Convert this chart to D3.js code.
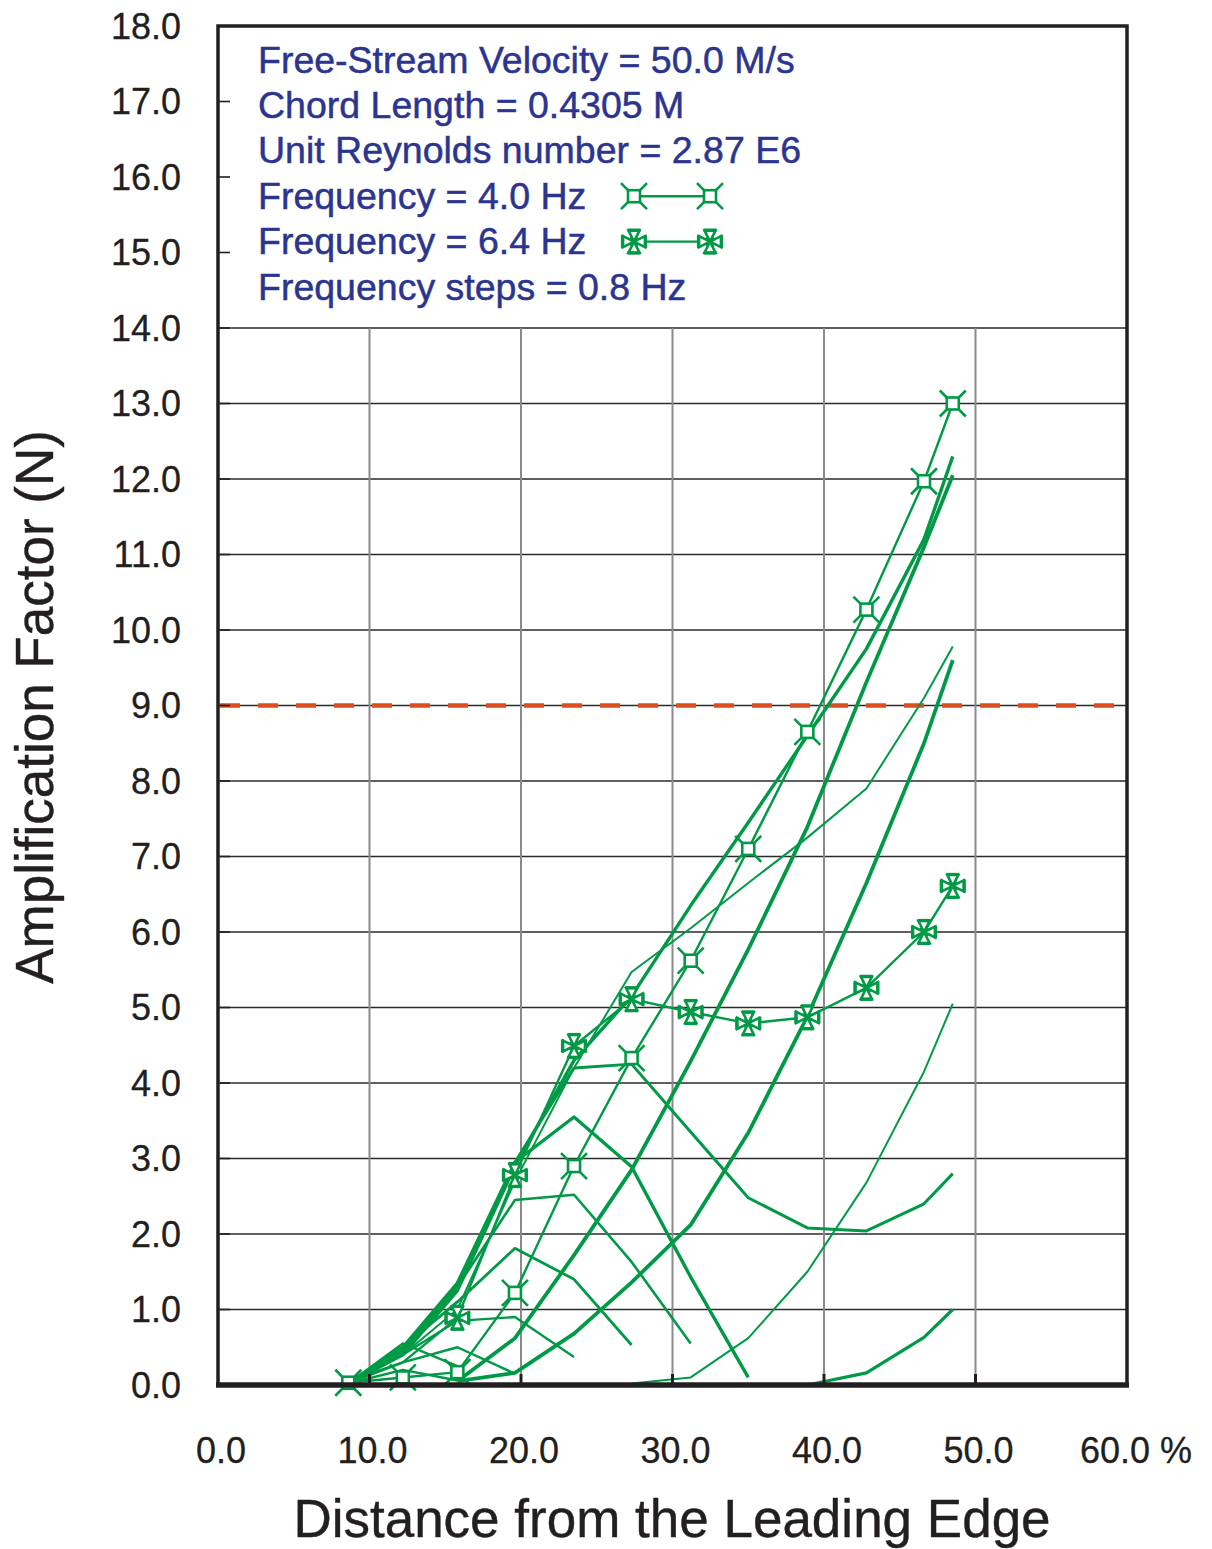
<!DOCTYPE html>
<html><head><meta charset="utf-8">
<script src="https://cdn.jsdelivr.net/npm/d3@7"></script>
<style>body{margin:0;background:#fff}</style>
</head><body><svg id="c" width="1212" height="1549"></svg>
<script>
// ---- data ----
const xTicks = [0, 10, 20, 30, 40, 50, 60];
const xTickLabels = ["0.0", "10.0", "20.0", "30.0", "40.0", "50.0", "60.0 %"];
const yTicks = [0,1,2,3,4,5,6,7,8,9,10,11,12,13,14,15,16,17,18];
const yTickLabels = yTicks.map(d => d.toFixed(1));
const legendTexts = ["Free-Stream Velocity = 50.0 M/s", "Chord Length = 0.4305 M",
  "Unit Reynolds number = 2.87 E6", "Frequency = 4.0 Hz", "Frequency = 6.4 Hz",
  "Frequency steps = 0.8 Hz"];
const threshold = 9.0;
// measurement stations (% chord)
const stations = [8.6, 12.2, 15.8, 19.6, 23.5, 27.3, 31.2, 35.0, 38.9, 42.8, 46.6, 48.5];
// N-factor values at each station (null = no value)
const freq40 = [0.03, 0.10, 0.17, 1.22, 2.90, 4.33, 5.62, 7.10, 8.65, 10.27, 11.97, 13.00];
const freq64 = [0.05, 0.30, 0.89, 2.78, 4.49, 5.11, 4.94, 4.79, 4.87, 5.26, 6.00, 6.61];
const curveZ = [0.02, 0.40, 1.25, 2.90, 4.30, 5.15, 6.35, 7.45, 8.60, 9.75, 11.20, 12.30];
const curveW = [null, null, 0.05, 0.62, 1.72, 2.85, 4.29, 5.77, 7.39, 9.31, 11.10, 12.05];
const curveD = [0.02, 0.40, 1.00, 2.70, 4.20, 5.47, 6.05, 6.65, 7.25, 7.90, 9.10, 9.78];
const curveV = [null, null, 0.05, 0.16, 0.68, 1.36, 2.12, 3.34, 4.88, 6.65, 8.50, 9.60];
const curveX = [null, null, null, null, null, 0.02, 0.10, 0.62, 1.50, 2.68, 4.15, 5.05];
const curveY = [null, null, null, null, null, null, null, null, 0.00, 0.16, 0.63, 1.00];
const curveU = [0.02, 0.45, 1.30, 2.95, 4.20, 4.25, 3.35, 2.48, 2.08, 2.04, 2.40, 2.80];
const curveP = [0.02, 0.50, 1.35, 2.95, 3.55, 2.89, 1.43, 0.10];
const curveQ = [0.02, 0.45, 1.30, 2.45, 2.52, 1.63, 0.55];
const curveR = [0.02, 0.50, 1.10, 1.81, 1.40, 0.53];
const curveS = [0.02, 0.40, 0.85, 0.90, 0.37];
const curveT = [0.02, 0.30, 0.50, 0.15];
const curveH1 = [0.02, 0.55, 0.25];
const curveH2 = [0.02, 0.20, 0.06];

// ---- layout / style ----
const svg = d3.select("#c");
const M = {left: 218, right: 1127, top: 26, bottom: 1385};
const x = d3.scaleLinear().domain([0, 60]).range([M.left, M.right]);
const y = d3.scaleLinear().domain([0, 18]).range([M.bottom, M.top]);
const GREEN = "#009a46", NAVY = "#2b3590", INK = "#231f20";
const FONT = "Liberation Sans, Arial, Helvetica, sans-serif";

svg.append("rect").attr("width", 1212).attr("height", 1549).attr("fill", "#fff");

// grid (only below 14)
const grid = svg.append("g");
grid.selectAll("line.h").data(yTicks.filter(d => d > 0 && d <= 14)).join("line")
  .attr("x1", M.left).attr("x2", M.right).attr("y1", d => y(d)).attr("y2", d => y(d))
  .attr("stroke", "#2a2a2a").attr("stroke-width", 1.6);
grid.selectAll("line.v").data(xTicks.filter(d => d > 0 && d < 60)).join("line")
  .attr("x1", d => x(d)).attr("x2", d => x(d)).attr("y1", y(14)).attr("y2", y(0))
  .attr("stroke", "#8a8a8a").attr("stroke-width", 2);

// threshold dashed line
svg.append("line").attr("x1", M.left).attr("x2", M.right)
  .attr("y1", y(threshold)).attr("y2", y(threshold))
  .attr("stroke", "#dc4e1c").attr("stroke-width", 4.5).attr("stroke-dasharray", "20 18")
  .attr("stroke-dashoffset", -2);

// curves
const curves = [
  {v: curveY, w: 3.2}, {v: curveX, w: 2.0}, {v: curveV, w: 3.8}, {v: curveW, w: 3.8},
  {v: curveZ, w: 3.4}, {v: curveD, w: 2.0}, {v: curveU, w: 3.0}, {v: curveP, w: 3.4},
  {v: curveQ, w: 2.6}, {v: curveR, w: 2.8}, {v: curveS, w: 2.4}, {v: curveT, w: 2.4},
  {v: curveH1, w: 2.4}, {v: curveH2, w: 2.4},
  {v: freq64, w: 2.4}, {v: freq40, w: 2.4}
];
const line = d3.line().defined(d => d[1] != null).x(d => x(d[0])).y(d => y(d[1]));
const plot = svg.append("g");
curves.forEach(c => {
  const pts = stations.map((s, i) => [s, c.v[i] === undefined ? null : c.v[i]]);
  plot.append("path").attr("d", line(pts)).attr("fill", "none")
    .attr("stroke", GREEN).attr("stroke-width", c.w).attr("stroke-linejoin", "round");
});

function markerSquareX(g) {
  g.append("rect").attr("x", -6).attr("y", -6).attr("width", 12).attr("height", 12)
    .attr("fill", "#fff").attr("stroke", GREEN).attr("stroke-width", 2.6);
  [[1,1],[1,-1],[-1,1],[-1,-1]].forEach(([a,b]) =>
    g.append("line").attr("x1", 6*a).attr("y1", 6*b).attr("x2", 13*a).attr("y2", 13*b)
      .attr("stroke", GREEN).attr("stroke-width", 2.6));
}
function markerStar(g) {
  const tri = [[0,0],[-5.5,-11],[5.5,-11]];
  [0, 90, 180, 270].forEach(r => {
    const t = g.append("g").attr("transform", `rotate(${r})`);
    t.append("path").attr("d", "M" + tri.join("L") + "Z")
      .attr("fill", "#fff").attr("stroke", GREEN).attr("stroke-width", 2.6).attr("stroke-linejoin", "miter");
    t.append("line").attr("x1", -6.5).attr("x2", 6.5).attr("y1", -11.5).attr("y2", -11.5)
      .attr("stroke", GREEN).attr("stroke-width", 3.2);
  });
  g.append("path").attr("d", "M-4,-4L4,4M-4,4L4,-4").attr("stroke", GREEN).attr("stroke-width", 2.4);
}
stations.forEach((s, i) => {
  if (freq64[i] != null && i >= 2) markerStar(plot.append("g").attr("transform", `translate(${x(s)},${y(freq64[i])})`));
});
stations.forEach((s, i) => {
  if (freq40[i] != null) markerSquareX(plot.append("g").attr("transform", `translate(${x(s)},${y(freq40[i])})`));
});

// legend
const leg = svg.append("g");
legendTexts.forEach((t, i) => {
  leg.append("text").attr("x", 258).attr("y", 72.5 + i * 45.4).text(t)
    .attr("font-family", FONT).attr("font-size", 37.5)
    .attr("fill", NAVY).attr("stroke", NAVY).attr("stroke-width", 0.5);
});
[[3, markerSquareX], [4, markerStar]].forEach(([i, fn]) => {
  const yy = 59 + i * 45.4 + 1;
  leg.append("line").attr("x1", 634).attr("x2", 710).attr("y1", yy).attr("y2", yy)
    .attr("stroke", GREEN).attr("stroke-width", 2.4);
  fn(leg.append("g").attr("transform", `translate(634,${yy})`));
  fn(leg.append("g").attr("transform", `translate(710,${yy})`));
});

// frame
svg.append("rect").attr("x", M.left).attr("y", M.top).attr("width", M.right - M.left)
  .attr("height", M.bottom - M.top).attr("fill", "none").attr("stroke", INK).attr("stroke-width", 3.5);
svg.append("line").attr("x1", M.left - 2).attr("x2", M.right + 2).attr("y1", M.bottom).attr("y2", M.bottom)
  .attr("stroke", INK).attr("stroke-width", 5.5);
// inside ticks
svg.selectAll("line.yt").data(yTicks.filter(d => d > 0 && d < 18)).join("line")
  .attr("x1", M.left).attr("x2", M.left + 12).attr("y1", d => y(d)).attr("y2", d => y(d))
  .attr("stroke", INK).attr("stroke-width", 1.6);
svg.selectAll("line.xt").data(xTicks.filter(d => d > 0 && d < 60)).join("line")
  .attr("x1", d => x(d)).attr("x2", d => x(d)).attr("y1", M.bottom).attr("y2", M.bottom - 11)
  .attr("stroke", INK).attr("stroke-width", 3);

// tick labels
svg.selectAll("text.yl").data(yTicks).join("text")
  .attr("x", 181).attr("y", d => y(d) + 12.8).attr("text-anchor", "end")
  .attr("font-family", FONT).attr("font-size", 36).attr("fill", INK)
  .attr("stroke", INK).attr("stroke-width", 0.3)
  .text((d, i) => yTickLabels[i]);
svg.selectAll("text.xl").data(xTicks).join("text")
  .attr("x", (d, i) => i === 6 ? x(d) - 47 : x(d) + 3).attr("y", 1463)
  .attr("text-anchor", (d, i) => i === 6 ? "start" : "middle")
  .attr("font-family", FONT).attr("font-size", 36).attr("fill", INK)
  .attr("stroke", INK).attr("stroke-width", 0.3)
  .text((d, i) => xTickLabels[i]);

// axis titles
svg.append("text").attr("x", 672).attr("y", 1537).attr("text-anchor", "middle")
  .attr("font-family", FONT).attr("font-size", 53).attr("fill", INK)
  .attr("stroke", INK).attr("stroke-width", 0.4)
  .text("Distance from the Leading Edge");
svg.append("text").attr("transform", "translate(53,707) rotate(-90)").attr("text-anchor", "middle")
  .attr("font-family", FONT).attr("font-size", 53).attr("fill", INK)
  .attr("stroke", INK).attr("stroke-width", 0.4)
  .text("Amplification Factor (N)");
</script></body></html>
